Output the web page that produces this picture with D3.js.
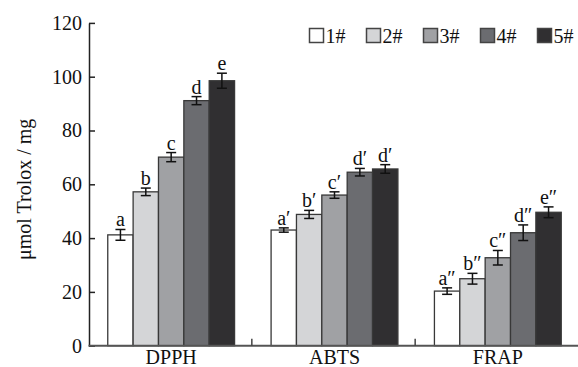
<!DOCTYPE html>
<html>
<head>
<meta charset="utf-8">
<script src="https://cdn.jsdelivr.net/npm/d3@7"></script>
<style>
  html, body { margin: 0; padding: 0; background: #fff; }
  svg { display: block; }
  text { font-family: "Liberation Serif", "Times New Roman", serif; fill: #111; }
</style>
</head>
<body>
<svg id="chart" width="578" height="367"></svg>
<script>
// Antioxidant assays and sample groups
const categories = ["DPPH", "ABTS", "FRAP"];
const samples = ["1#", "2#", "3#", "4#", "5#"];
const sampleColors = ["#ffffff", "#d4d5d7", "#a0a1a4", "#6b6c70", "#302f31"];

// Mean values (µmol Trolox / mg), one array per assay, ordered by sample
const dpphValues = [41.2, 57.2, 70.1, 91.1, 98.5];
const abtsValues = [43.0, 48.8, 56.0, 64.5, 65.7];
const frapValues = [20.3, 24.9, 32.7, 42.0, 49.6];

// Standard deviations
const dpphErrors = [2.0, 1.4, 1.7, 1.5, 2.8];
const abtsErrors = [0.8, 1.5, 1.2, 1.4, 1.6];
const frapErrors = [1.2, 2.0, 2.7, 2.9, 2.0];

// Significance letters
const dpphLetters = ["a", "b", "c", "d", "e"];
const abtsLetters = ["a\u2032", "b\u2032", "c\u2032", "d\u2032", "d\u2032"];
const frapLetters = ["a\u2033", "b\u2033", "c\u2033", "d\u2033", "e\u2033"];

const yTicks = [0, 20, 40, 60, 80, 100, 120];
const yLabel = "\u03bcmol Trolox / mg";

const valuesByCat = [dpphValues, abtsValues, frapValues];
const errorsByCat = [dpphErrors, abtsErrors, frapErrors];
const lettersByCat = [dpphLetters, abtsLetters, frapLetters];

const rows = [];
categories.forEach((c, ci) => {
  samples.forEach((s, si) => {
    rows.push({
      cat: c, sample: s, color: sampleColors[si],
      value: valuesByCat[ci][si], err: errorsByCat[ci][si], letter: lettersByCat[ci][si]
    });
  });
});

const svg = d3.select("#chart");
const plotLeft = 89.5, plotRight = 579.5, plotTop = 22.9, plotBottom = 345.7;

const x0 = d3.scaleBand().domain(categories).range([plotLeft, plotRight]);
const x1 = d3.scaleBand().domain(samples).range([0, x0.bandwidth()]).paddingOuter(0.72);
const y = d3.scaleLinear().domain([0, 120]).range([plotBottom, plotTop]);

// Bars
svg.append("g").selectAll("rect").data(rows).join("rect")
  .attr("x", d => x0(d.cat) + x1(d.sample))
  .attr("y", d => y(d.value))
  .attr("width", x1.bandwidth())
  .attr("height", d => y(0) - y(d.value))
  .attr("fill", d => d.color)
  .attr("stroke", "#383838")
  .attr("stroke-width", 1.3);

// Error bars
const eb = svg.append("g").attr("stroke", "#111").attr("stroke-width", 1.5).attr("fill", "none");
rows.forEach(d => {
  const cx = x0(d.cat) + x1(d.sample) + x1.bandwidth() / 2;
  const y1 = y(d.value + d.err), y2 = y(d.value - d.err);
  eb.append("line").attr("x1", cx).attr("x2", cx).attr("y1", y1).attr("y2", y2);
  eb.append("line").attr("x1", cx - 5).attr("x2", cx + 5).attr("y1", y1).attr("y2", y1);
  eb.append("line").attr("x1", cx - 5).attr("x2", cx + 5).attr("y1", y2).attr("y2", y2);
});

// Significance letters
svg.append("g").selectAll("text").data(rows).join("text")
  .attr("x", d => x0(d.cat) + x1(d.sample) + x1.bandwidth() / 2)
  .attr("y", d => y(d.value + d.err) - 3)
  .attr("text-anchor", "middle")
  .attr("font-size", 20)
  .text(d => d.letter);

// Y axis with inward ticks
const yAxis = svg.append("g")
  .attr("transform", `translate(${plotLeft - 0.5},0)`)
  .call(d3.axisLeft(y).tickValues(yTicks).tickSizeInner(-6).tickSizeOuter(0).tickPadding(7));
yAxis.select(".domain").attr("stroke", "#222").attr("stroke-width", 1.5);
yAxis.selectAll(".tick line").attr("stroke", "#222").attr("stroke-width", 1.5);
yAxis.selectAll(".tick text")
  .attr("font-family", "Liberation Serif, serif")
  .attr("font-size", 20)
  .attr("fill", "#111");

// X baseline with category separators
const xAxis = svg.append("g").attr("transform", `translate(0,${plotBottom})`);
xAxis.append("line").attr("x1", plotLeft - 1).attr("x2", 578).attr("y1", 0).attr("y2", 0)
  .attr("stroke", "#555").attr("stroke-width", 2);
xAxis.selectAll("line.sep").data(categories.slice(1)).join("line")
  .attr("class", "sep")
  .attr("x1", d => x0(d) - 1).attr("x2", d => x0(d) - 1)
  .attr("y1", 0).attr("y2", -7)
  .attr("stroke", "#444").attr("stroke-width", 1.5);
xAxis.selectAll("text").data(categories).join("text")
  .attr("x", d => x0(d) + x0.bandwidth() / 2)
  .attr("y", 18.5)
  .attr("text-anchor", "middle")
  .attr("font-size", 20)
  .text(d => d);

// Y axis title
svg.append("text")
  .attr("transform", `translate(31,${(plotTop + plotBottom) / 2 + 5}) rotate(-90)`)
  .attr("text-anchor", "middle")
  .attr("font-size", 20)
  .text(yLabel);

// Legend
const legend = svg.append("g").attr("transform", "translate(309.5,28.5)");
const items = legend.selectAll("g").data(samples).join("g")
  .attr("transform", (d, i) => `translate(${i * 57},0)`);
items.append("rect")
  .attr("width", 14).attr("height", 14)
  .attr("fill", (d, i) => sampleColors[i])
  .attr("stroke", "#444").attr("stroke-width", 1.5);
items.append("text")
  .attr("x", 16).attr("y", 14)
  .attr("font-size", 20)
  .text(d => d);
</script>
</body>
</html>
